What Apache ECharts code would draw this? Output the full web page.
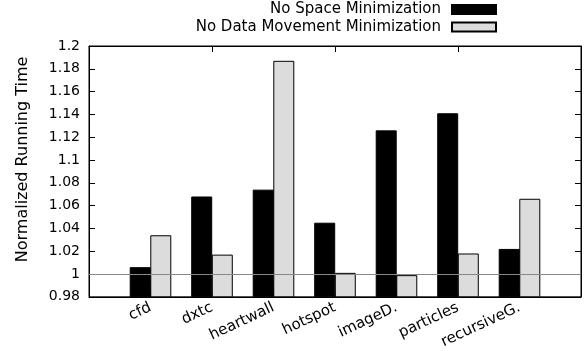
<!DOCTYPE html>
<html><head><meta charset="utf-8">
<script src="https://cdn.jsdelivr.net/npm/echarts@6/dist/echarts.min.js"></script>
<style>html,body{margin:0;padding:0;background:#fff}#c{width:584px;height:351px}</style>
</head><body><div id="c"></div>
<script>
const categories = ['cfd', 'dxtc', 'heartwall', 'hotspot', 'imageD.', 'particles', 'recursiveG.'];
const noSpaceMin = [1.006, 1.068, 1.074, 1.045, 1.126, 1.141, 1.022];
const noDataMoveMin = [1.034, 1.017, 1.187, 1.001, 0.999, 1.018, 1.066];
const yTicks = [0.98, 1, 1.02, 1.04, 1.06, 1.08, 1.1, 1.12, 1.14, 1.16, 1.18, 1.2];
const seriesNames = ['No Space Minimization', 'No Data Movement Minimization'];

const FONT = 'DejaVu Sans';
const axisCats = [''].concat(categories, ['']);
const pad = arr => ['-'].concat(arr, ['-']);

const chart = echarts.init(document.getElementById('c'), null, {renderer: 'canvas'});
const yBase = {
  type: 'value', min: yTicks[0], max: yTicks[yTicks.length - 1], interval: 0.02,
  splitLine: {show: false},
  axisLine: {show: true, lineStyle: {color: '#000', width: 1}},
  axisTick: {show: true, inside: true, length: 6, lineStyle: {color: '#000'}}
};
const legendBase = {right: 87, align: 'right', itemWidth: 44, itemHeight: 9, icon: 'rect', padding: 0,
  textStyle: {fontFamily: FONT, fontSize: 15, color: '#000', padding: [0, 6, 0, 0]}, selectedMode: false};
chart.setOption({
  animation: false,
  textStyle: {fontFamily: FONT},
  grid: {left: 89, right: 3, top: 46, bottom: 52, show: true, borderColor: '#000', borderWidth: 1, containLabel: false},
  legend: [
    Object.assign({}, legendBase, {data: [seriesNames[0]], top: 2}),
    Object.assign({}, legendBase, {data: [seriesNames[1]], top: 19.5})
  ],
  xAxis: [
    {type: 'category', data: axisCats, boundaryGap: false, position: 'bottom',
     axisLine: {show: true, lineStyle: {color: '#000'}},
     axisTick: {show: true, inside: true, length: 6, lineStyle: {color: '#000'}},
     axisLabel: {rotate: 25, fontFamily: FONT, fontSize: 15, color: '#000', margin: 10, interval: 0},
     splitLine: {show: false}},
    {type: 'category', data: axisCats, boundaryGap: false, position: 'top',
     axisLine: {show: true, lineStyle: {color: '#000'}},
     axisTick: {show: true, inside: true, length: 6, lineStyle: {color: '#000'}},
     axisLabel: {show: false}, splitLine: {show: false}}
  ],
  yAxis: [
    Object.assign({}, yBase, {position: 'left',
      name: 'Normalized Running Time', nameLocation: 'middle', nameGap: 58, nameRotate: 90,
      nameTextStyle: {fontFamily: FONT, fontSize: 16, color: '#000', padding: [0, 0, 0, 24]},
      axisLabel: {fontFamily: FONT, fontSize: 14, color: '#000', margin: 9,
        formatter: v => String(parseFloat(v.toFixed(2)))}}),
    Object.assign({}, yBase, {position: 'right', axisLabel: {show: false}})
  ],
  series: [
    {name: seriesNames[0], type: 'bar', data: pad(noSpaceMin), barWidth: 21, barGap: '-2%', z: 3,
     itemStyle: {color: '#000', borderColor: '#000', borderWidth: 1}},
    {name: seriesNames[1], type: 'bar', data: pad(noDataMoveMin), barWidth: 21, z: 2,
     itemStyle: {color: '#dcdcdc', borderColor: '#000', borderWidth: 1},
     markLine: {silent: true, symbol: 'none', label: {show: false},
       lineStyle: {color: '#888', type: 'solid', width: 1},
       data: [{yAxis: 1}]}}
  ]
});
</script></body></html>
